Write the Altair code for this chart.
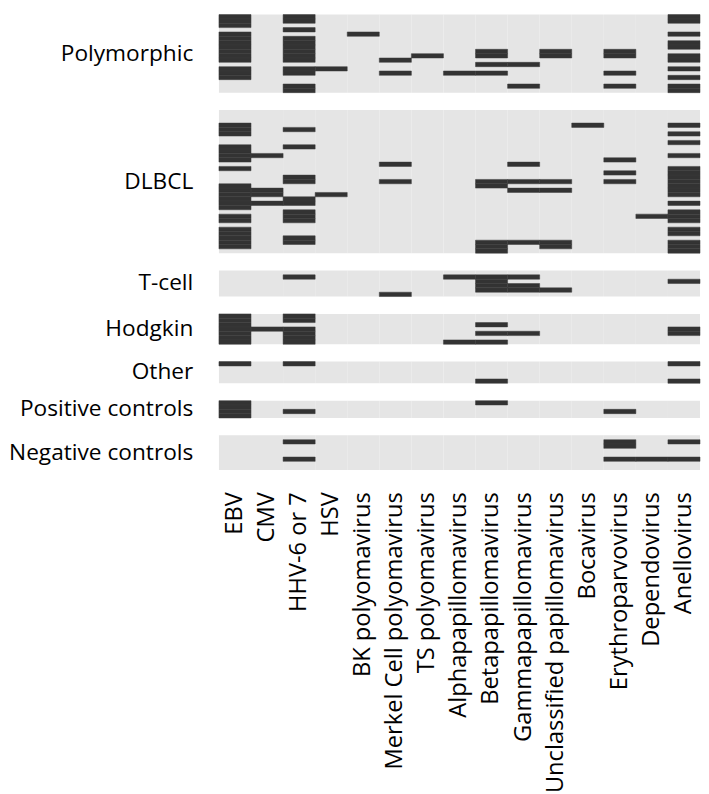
import altair as alt
import pandas as pd

VIRUSES = [
    "EBV", "CMV", "HHV-6 or 7", "HSV", "BK polyomavirus",
    "Merkel Cell polyomavirus", "TS polyomavirus", "Alphapapillomavirus",
    "Betapapillomavirus", "Gammapapillomavirus", "Unclassified papillomavirus",
    "Bocavirus", "Erythroparvovirus", "Dependovirus", "Anellovirus",
]

GROUPS = ["Polymorphic", "DLBCL", "T-cell", "Hodgkin", "Other",
          "Positive controls", "Negative controls"]
N_ROWS = [18, 33, 6, 7, 5, 4, 8]

# positive sample rows (0 = top row of the group) per virus
POLYMORPHIC = {
    "EBV": [0, 1, 2, 4, 5, 6, 7, 8, 9, 10, 12, 13, 14],
    "HHV-6 or 7": [0, 1, 3, 5, 6, 7, 8, 9, 10, 12, 13, 16, 17],
    "HSV": [12],
    "BK polyomavirus": [4],
    "Merkel Cell polyomavirus": [10, 13],
    "TS polyomavirus": [9],
    "Alphapapillomavirus": [13],
    "Betapapillomavirus": [8, 9, 11, 13],
    "Gammapapillomavirus": [11, 16],
    "Unclassified papillomavirus": [8, 9],
    "Erythroparvovirus": [8, 9, 13, 16],
    "Anellovirus": [0, 1, 4, 6, 7, 9, 10, 12, 14, 16, 17],
}
DLBCL = {
    "EBV": [3, 4, 5, 8, 9, 10, 11, 13, 17, 18, 19, 20, 21, 22, 24, 25,
            27, 28, 29, 30, 31],
    "CMV": [10, 18, 19, 21],
    "HHV-6 or 7": [4, 8, 15, 16, 20, 21, 23, 24, 25, 29, 30],
    "HSV": [19],
    "Merkel Cell polyomavirus": [12, 16],
    "Betapapillomavirus": [16, 17, 30, 31, 32],
    "Gammapapillomavirus": [12, 16, 18, 30],
    "Unclassified papillomavirus": [16, 18, 30, 31],
    "Bocavirus": [3],
    "Erythroparvovirus": [11, 14, 16],
    "Dependovirus": [24],
    "Anellovirus": [3, 5, 7, 10, 13, 14, 15, 16, 17, 18, 19, 21, 23, 24,
                    25, 27, 28, 30, 31, 32],
}
TCELL = {
    "HHV-6 or 7": [1],
    "Merkel Cell polyomavirus": [5],
    "Alphapapillomavirus": [1],
    "Betapapillomavirus": [1, 2, 3, 4],
    "Gammapapillomavirus": [1, 3, 4],
    "Unclassified papillomavirus": [4],
    "Anellovirus": [2],
}
HODGKIN = {
    "EBV": [0, 1, 2, 3, 4, 5, 6],
    "CMV": [3],
    "HHV-6 or 7": [0, 1, 3, 4, 5, 6],
    "Alphapapillomavirus": [6],
    "Betapapillomavirus": [2, 4, 6],
    "Gammapapillomavirus": [4],
    "Anellovirus": [3, 4],
}
OTHER = {
    "EBV": [0],
    "HHV-6 or 7": [0],
    "Betapapillomavirus": [4],
    "Anellovirus": [0, 4],
}
POS_CONTROLS = {
    "EBV": [0, 1, 2, 3],
    "HHV-6 or 7": [2],
    "Betapapillomavirus": [0],
    "Erythroparvovirus": [2],
}
NEG_CONTROLS = {
    "HHV-6 or 7": [1, 5],
    "Erythroparvovirus": [1, 2, 5],
    "Dependovirus": [5],
    "Anellovirus": [1, 5],
}
POSITIVES = [POLYMORPHIC, DLBCL, TCELL, HODGKIN, OTHER, POS_CONTROLS, NEG_CONTROLS]

GAP = 4        # empty rows between groups
ROW_PX = 4.4   # pixel height of one sample row
FONT = "Open Sans"

offsets = []
o = 0
for n in N_ROWS:
    offsets.append(o)
    o += n + GAP
total = o - GAP

bg = pd.DataFrame([
    {"group": g, "virus": v, "y0": off, "y1": off + n}
    for g, off, n in zip(GROUPS, offsets, N_ROWS) for v in VIRUSES
])
cells = pd.DataFrame([
    {"group": g, "virus": v, "y0": off + r, "y1": off + r + 1}
    for g, off, pos in zip(GROUPS, offsets, POSITIVES)
    for v, rows in pos.items() for r in rows
])
labels = pd.DataFrame([
    {"group": g, "yc": off + n / 2} for g, off, n in zip(GROUPS, offsets, N_ROWS)
])

xenc = alt.X(
    "virus:N",
    sort=VIRUSES,
    scale=alt.Scale(domain=VIRUSES, paddingInner=0, paddingOuter=0),
    axis=alt.Axis(title=None, labelAngle=270, ticks=False, domain=False,
                  labelFont=FONT, labelFontSize=24, labelColor="black",
                  labelPadding=22, labelLimit=0, grid=False),
)
yscale = alt.Scale(domain=[0, total], reverse=True, nice=False, zero=False)

background = alt.Chart(bg).mark_rect(color="#e5e5e5").encode(
    x=xenc,
    y=alt.Y("y0:Q", scale=yscale, axis=None),
    y2="y1:Q",
)
positive = alt.Chart(cells).mark_rect(
    color="#333333", stroke="#3c3c3c", strokeWidth=0.5
).encode(
    x=xenc,
    y=alt.Y("y0:Q", scale=yscale, axis=None),
    y2="y1:Q",
)
group_labels = alt.Chart(labels).mark_text(
    align="right", baseline="middle", font=FONT, fontSize=23, color="black"
).encode(
    x=alt.value(-26),
    y=alt.Y("yc:Q", scale=yscale, axis=None),
    text="group:N",
)

chart = alt.layer(background, positive, group_labels).properties(
    width=488, height=total * ROW_PX,
    padding={"left": 0, "top": 0, "right": 0, "bottom": 0},
).configure_view(stroke=None)

chart.save("out.html", embed_options={"renderer": "svg", "actions": False})
